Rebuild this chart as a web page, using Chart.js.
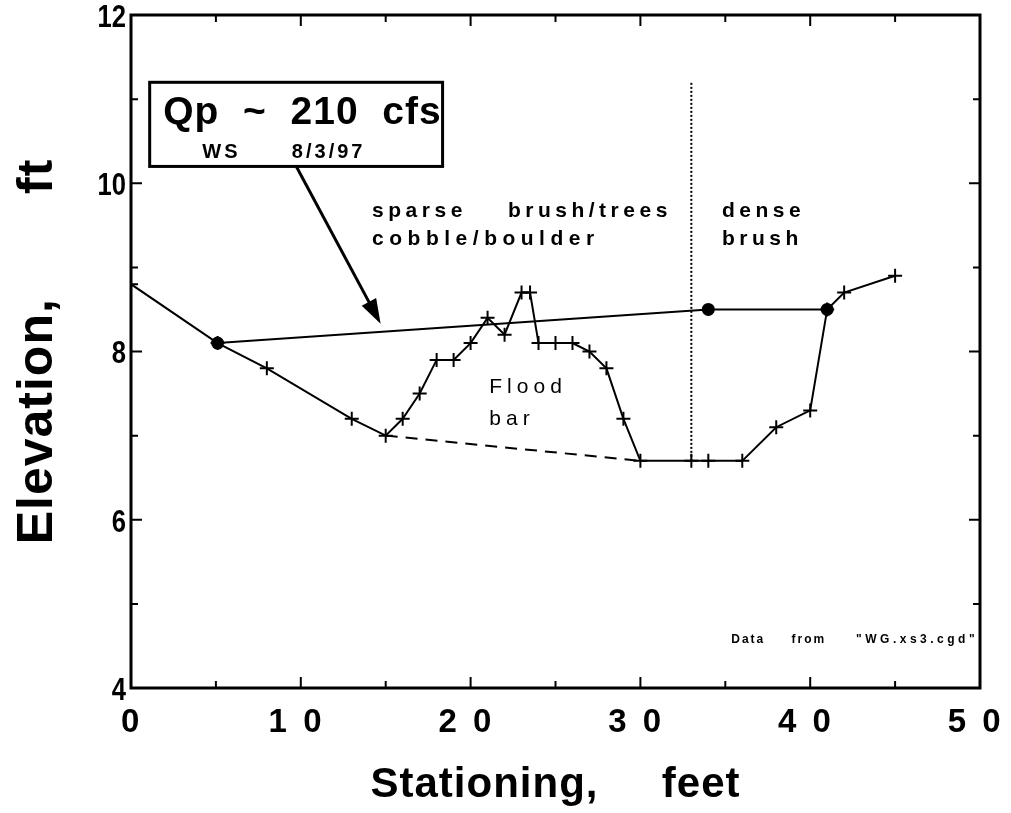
<!DOCTYPE html>
<html>
<head>
<meta charset="utf-8">
<script src="https://cdn.jsdelivr.net/npm/chart.js@4/dist/chart.umd.min.js"></script>
<style>
  html, body { margin: 0; padding: 0; background: #fff; }
  canvas { display: block; }
</style>
</head>
<body>
<canvas id="xs" width="1011" height="813"></canvas>
<script>
// cross section 3 - ground survey and high water
const groundStation = [0, 5.1, 8, 13, 15, 16, 17, 18, 19, 20, 21, 22, 23, 23.5, 24, 25, 26, 27, 28, 29, 30, 33, 34, 36, 38, 40, 41, 42, 45];
const groundElev = [8.8, 8.1, 7.8, 7.2, 7.0, 7.2, 7.5, 7.9, 7.9, 8.1, 8.4, 8.2, 8.7, 8.7, 8.1, 8.1, 8.1, 8.0, 7.8, 7.2, 6.7, 6.7, 6.7, 6.7, 7.1, 7.3, 8.5, 8.7, 8.9];

const wsStation = [5.1, 34, 41];
const wsElev = [8.1, 8.5, 8.5];

const barBaseStation = [15, 30];
const barBaseElev = [7.0, 6.7];

const vegLineStation = [33, 33];
const vegLineElev = [6.7, 11.2];

const xTickLabels = ['0', '1 0', '2 0', '3 0', '4 0', '5 0'];
const yTickLabels = ['4', '6', '8', '10', '12'];

const FONT = "'Liberation Sans', Arial, Helvetica, sans-serif";

function pts(xs, ys) {
  return xs.map((x, i) => ({ x: x, y: ys[i] }));
}

// squeezed text, like the old plotter lettering
function narrowText(ctx, text, x, y, sx) {
  ctx.save();
  ctx.translate(x, y);
  ctx.scale(sx, 1);
  ctx.fillText(text, 0, 0);
  ctx.restore();
}

// frame, inward ticks, tick labels, notes and arrow
const extras = {
  id: 'extras',
  beforeDraw(chart) {
    chart.ctx.letterSpacing = '1px';
  },
  afterDraw(chart) {
    const ctx = chart.ctx;
    const xs = chart.scales.x, ys = chart.scales.y;
    const px = v => xs.getPixelForValue(v);
    const py = v => ys.getPixelForValue(v);
    const a = chart.chartArea;
    ctx.save();
    ctx.strokeStyle = '#000';
    ctx.fillStyle = '#000';

    // box
    ctx.lineWidth = 3;
    ctx.strokeRect(a.left, a.top, a.right - a.left, a.bottom - a.top);

    // ticks on all four sides
    ctx.lineWidth = 2;
    ctx.beginPath();
    for (let v = 5; v < 50; v += 5) {
      const len = v % 10 === 0 ? 11 : 7;
      ctx.moveTo(px(v), a.bottom); ctx.lineTo(px(v), a.bottom - len);
      ctx.moveTo(px(v), a.top); ctx.lineTo(px(v), a.top + len);
    }
    for (let v = 5; v < 12; v += 1) {
      const len = v % 2 === 0 ? 11 : 7;
      ctx.moveTo(a.left, py(v)); ctx.lineTo(a.left + len, py(v));
      ctx.moveTo(a.right, py(v)); ctx.lineTo(a.right - len, py(v));
    }
    ctx.stroke();

    // tick labels
    ctx.letterSpacing = '3.5px';
    ctx.font = 'bold 33px ' + FONT;
    ctx.textBaseline = 'middle';
    ctx.textAlign = 'center';
    xs.ticks.forEach((t, i) => {
      const label = xTickLabels[i];
      const shift = label.length > 1 ? -4 : 1;
      ctx.fillText(label, px(t.value) + shift, a.bottom + 35);
    });
    ctx.letterSpacing = '0px';
    ctx.font = 'bold 32px ' + FONT;
    ctx.textAlign = 'right';
    ys.ticks.forEach((t, i) => {
      narrowText(ctx, yTickLabels[i], a.left - 5, py(t.value) + 3, 0.8);
    });

    // discharge label box
    const bx0 = px(1.1), by0 = py(11.2), bx1 = px(18.35), by1 = py(10.2);
    ctx.lineWidth = 3;
    ctx.strokeRect(bx0, by0, bx1 - bx0, by1 - by0);
    ctx.textAlign = 'left';
    ctx.textBaseline = 'alphabetic';
    ctx.letterSpacing = '1px';
    ctx.font = 'bold 39px ' + FONT;
    ctx.fillText('Qp  ~  210  cfs', px(1.9), py(10.7));
    ctx.font = 'bold 20px ' + FONT;
    ctx.letterSpacing = '3px';
    ctx.fillText('WS      8/3/97', px(4.2), py(10.3));

    // arrow to the water surface
    const ax0 = px(9.76), ay0 = py(10.19), ax1 = px(14.7), ay1 = py(8.33);
    const ang = Math.atan2(ay1 - ay0, ax1 - ax0);
    ctx.lineWidth = 3;
    ctx.beginPath();
    ctx.moveTo(ax0, ay0);
    ctx.lineTo(ax1 - 18 * Math.cos(ang), ay1 - 18 * Math.sin(ang));
    ctx.stroke();
    ctx.beginPath();
    ctx.moveTo(ax1, ay1);
    ctx.lineTo(ax1 - 26 * Math.cos(ang - 0.32), ay1 - 26 * Math.sin(ang - 0.32));
    ctx.lineTo(ax1 - 26 * Math.cos(ang + 0.32), ay1 - 26 * Math.sin(ang + 0.32));
    ctx.closePath();
    ctx.fill();

    // vegetation / bed notes
    ctx.font = 'bold 21px ' + FONT;
    ctx.letterSpacing = '4.5px';
    ctx.fillText('sparse', px(14.2), py(9.6));
    ctx.fillText('brush/trees', px(22.2), py(9.6));
    ctx.letterSpacing = '5.5px';
    ctx.fillText('cobble/boulder', px(14.2), py(9.27));
    ctx.letterSpacing = '4.5px';
    ctx.fillText('dense', px(34.8), py(9.6));
    ctx.fillText('brush', px(34.8), py(9.27));

    ctx.font = '21px ' + FONT;
    ctx.letterSpacing = '5px';
    ctx.fillText('Flood', px(21.1), py(7.51));
    ctx.fillText('bar', px(21.1), py(7.13));

    ctx.font = 'bold 12px ' + FONT;
    ctx.letterSpacing = '2px';
    ctx.fillText('Data', px(35.35), py(4.53));
    ctx.fillText('from', px(38.9), py(4.53));
    ctx.letterSpacing = '3.5px';
    ctx.fillText('"WG.xs3.cgd"', px(42.7), py(4.53));

    ctx.restore();
    ctx.letterSpacing = '0px';
  }
};

new Chart(document.getElementById('xs'), {
  type: 'scatter',
  data: {
    datasets: [
      {
        label: 'ground',
        data: pts(groundStation, groundElev),
        showLine: true,
        borderColor: '#000',
        borderWidth: 2,
        pointStyle: 'cross',
        pointRadius: 7,
        pointBorderWidth: 2,
        pointBorderColor: '#000',
        tension: 0
      },
      {
        label: 'water surface',
        data: pts(wsStation, wsElev),
        showLine: true,
        borderColor: '#000',
        borderWidth: 2,
        pointStyle: 'circle',
        pointRadius: 5.5,
        pointBackgroundColor: '#000',
        pointBorderColor: '#000'
      },
      {
        label: 'bar base',
        data: pts(barBaseStation, barBaseElev),
        showLine: true,
        borderColor: '#000',
        borderWidth: 2,
        borderDash: [12, 8],
        pointRadius: 0
      },
      {
        label: 'vegetation boundary',
        data: pts(vegLineStation, vegLineElev),
        showLine: true,
        borderColor: '#000',
        borderWidth: 2,
        borderDash: [2, 2],
        pointRadius: 0
      }
    ]
  },
  options: {
    responsive: false,
    animation: false,
    devicePixelRatio: 1,
    layout: { padding: { top: 15, right: 31, left: 0, bottom: 0 } },
    plugins: { legend: { display: false }, tooltip: { enabled: false } },
    scales: {
      x: {
        type: 'linear',
        min: 0, max: 50,
        grid: { display: false, drawTicks: false },
        border: { display: false },
        ticks: { stepSize: 10, display: false },
        title: {
          display: true,
          text: 'Stationing,     feet',
          color: '#000',
          font: { family: FONT, size: 42, weight: 'bold' },
          padding: { top: 0, bottom: 2 }
        },
        afterFit: s => {
          s.height = 125;
          s.paddingLeft = 0;
          s.paddingRight = 0;
        }
      },
      y: {
        type: 'linear',
        min: 4, max: 12,
        grid: { display: false, drawTicks: false },
        border: { display: false },
        ticks: { stepSize: 2, display: false },
        title: {
          display: true,
          text: 'Elevation,       ft',
          color: '#000',
          font: { family: FONT, size: 50, weight: 'bold' },
          padding: { top: 8, bottom: 0 }
        },
        afterFit: s => {
          s.width = 131;
          s.paddingTop = 0;
          s.paddingBottom = 0;
        }
      }
    }
  },
  plugins: [extras]
});
</script>
</body>
</html>
